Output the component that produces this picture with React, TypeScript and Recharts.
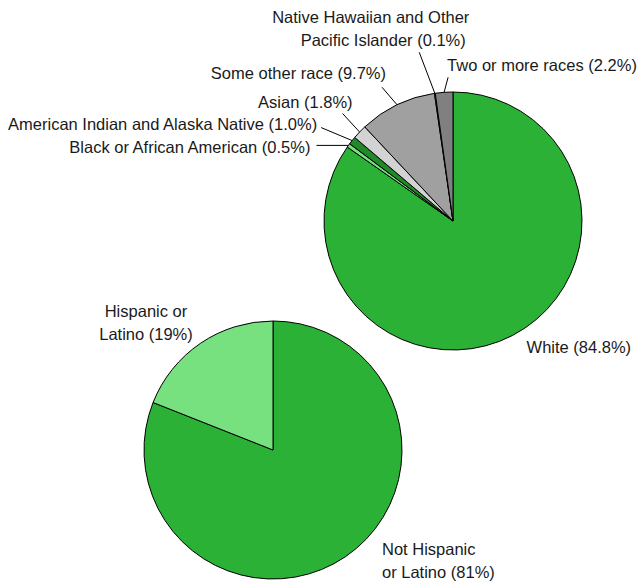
import React from 'react';
import { PieChart, Pie, Cell } from 'recharts';

const raceNames = [
  'White',
  'Black or African American',
  'American Indian and Alaska Native',
  'Asian',
  'Some other race',
  'Native Hawaiian and Other Pacific Islander',
  'Two or more races',
];
const raceValues = [84.8, 0.5, 1.0, 1.8, 9.7, 0.1, 2.2];
const raceLabels = [
  ['White (84.8%)'],
  ['Black or African American (0.5%)'],
  ['American Indian and Alaska Native (1.0%)'],
  ['Asian (1.8%)'],
  ['Some other race (9.7%)'],
  ['Native Hawaiian and Other', 'Pacific Islander (0.1%)'],
  ['Two or more races (2.2%)'],
];
const raceColors = ['#2bb236', '#77e07f', '#1f8a27', '#d3d3d3', '#a0a0a0', '#bbbbbb', '#808080'];

const ethNames = ['Not Hispanic or Latino', 'Hispanic or Latino'];
const ethValues = [81, 19];
const ethLabels = [
  ['Not Hispanic', 'or Latino (81%)'],
  ['Hispanic or', 'Latino (19%)'],
];
const ethColors = ['#2bb236', '#77e07f'];

const raceData = raceNames.map((name, i) => ({ name, value: raceValues[i] }));
const ethData = ethNames.map((name, i) => ({ name, value: ethValues[i] }));

// label layout: line (dx,dy from arc point; null = no line), text offset(s) from line end, anchor
type LabelLayout = {
  line: [number, number] | null;
  tx: number | number[];
  ty: number;
  anchor: 'start' | 'middle' | 'end';
};
const raceLayout: LabelLayout[] = [
  { line: null, tx: 14, ty: 12, anchor: 'start' },
  { line: [-32, 0], tx: -6, ty: 2, anchor: 'end' },
  { line: [-31, -13], tx: -4, ty: -4, anchor: 'end' },
  { line: [-17, -18.5], tx: 10, ty: -11.5, anchor: 'end' },
  { line: [-15, -17.5], tx: 4, ty: -14, anchor: 'end' },
  { line: [-15.6, -41], tx: [-48.5, -36], ty: -35.2, anchor: 'middle' },
  { line: [4, -15], tx: -1, ty: -12, anchor: 'start' },
];
const ethLayout: LabelLayout[] = [
  { line: null, tx: 36.5, ty: -7.7, anchor: 'start' },
  { line: null, tx: -54.5, ty: -32.3, anchor: 'middle' },
];

const RAD = Math.PI / 180;
const LINE_H = 23;

function makeLabel(labels: string[][], layout: LabelLayout[]) {
  return (props: any) => {
    const { cx, cy, midAngle, outerRadius, index } = props;
    const ax = cx + outerRadius * Math.cos(-midAngle * RAD);
    const ay = cy + outerRadius * Math.sin(-midAngle * RAD);
    const L = layout[index];
    let ex = ax;
    let ey = ay;
    if (L.line) {
      ex = ax + L.line[0];
      ey = ay + L.line[1];
    }
    const lines = labels[index];
    const txs = Array.isArray(L.tx) ? L.tx : lines.map(() => L.tx as number);
    const ty = ey + L.ty;
    return (
      <g>
        {L.line && <line x1={ax} y1={ay} x2={ex} y2={ey} stroke="#000" strokeWidth={1} />}
        <text
          x={ex + txs[0]}
          y={ty}
          textAnchor={L.anchor}
          dominantBaseline="central"
          fontFamily="'Liberation Sans', Arial, sans-serif"
          fontSize={16.5}
          fill="#1a1a1a"
        >
          {lines.map((s, i) => (
            <tspan key={i} x={ex + txs[i]} dy={i === 0 ? 0 : LINE_H}>
              {s}
            </tspan>
          ))}
        </text>
      </g>
    );
  };
}

export default function App() {
  return (
    <div style={{ position: 'absolute', left: 0, top: 0, background: '#fff' }}>
      <PieChart width={639} height={584} margin={{ top: 0, right: 0, bottom: 0, left: 0 }}>
        <Pie
          data={raceData}
          dataKey="value"
          cx={453}
          cy={221}
          outerRadius={129}
          startAngle={90}
          endAngle={-270}
          stroke="#000"
          strokeWidth={1}
          isAnimationActive={false}
          labelLine={false}
          label={makeLabel(raceLabels, raceLayout)}
        >
          {raceData.map((d, i) => (
            <Cell key={d.name} fill={raceColors[i]} />
          ))}
        </Pie>
        <Pie
          data={ethData}
          dataKey="value"
          cx={273}
          cy={450}
          outerRadius={129}
          startAngle={90}
          endAngle={-270}
          stroke="#000"
          strokeWidth={1}
          isAnimationActive={false}
          labelLine={false}
          label={makeLabel(ethLabels, ethLayout)}
        >
          {ethData.map((d, i) => (
            <Cell key={d.name} fill={ethColors[i]} />
          ))}
        </Pie>
      </PieChart>
    </div>
  );
}
